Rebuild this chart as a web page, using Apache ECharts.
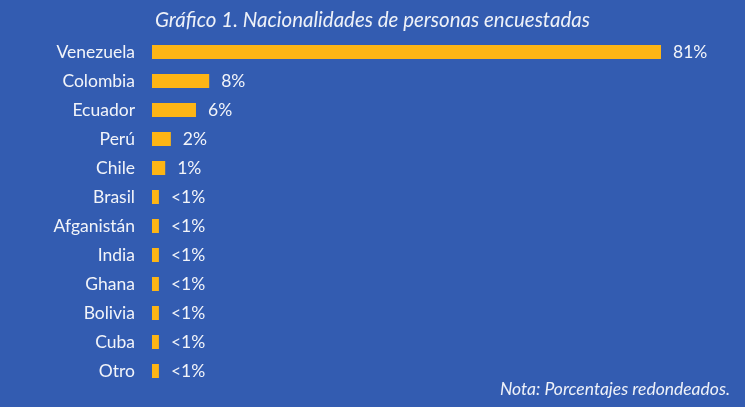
<!DOCTYPE html>
<html>
<head>
<meta charset="utf-8">
<script src="https://cdn.jsdelivr.net/npm/echarts@6/dist/echarts.min.js"></script>
<style>
  html, body { margin: 0; padding: 0; background: #335cb1; }
  #chart { width: 745px; height: 407px; }
</style>
</head>
<body>
<div id="chart"></div>
<script>
// paises, de arriba hacia abajo
var countries = ['Venezuela', 'Colombia', 'Ecuador', 'Perú', 'Chile', 'Brasil',
  'Afganistán', 'India', 'Ghana', 'Bolivia', 'Cuba', 'Otro'];
// largo de barra (%)
var values = [81, 9.1, 7.0, 3.0, 2.1, 1.1, 1.1, 1.1, 1.1, 1.1, 1.1, 1.1];
// etiquetas tal como aparecen (redondeadas)
var valueLabels = ['81%', '8%', '6%', '2%', '1%', '<1%', '<1%', '<1%', '<1%', '<1%', '<1%', '<1%'];

var chart = echarts.init(document.getElementById('chart'));
var font = 'Lato';

chart.setOption({
  backgroundColor: '#335cb1',
  animation: false,
  title: [
    {
      text: 'Gráfico 1. Nacionalidades de personas encuestadas',
      left: 'center',
      top: 5,
      textStyle: { color: '#eef1f8', fontFamily: font, fontStyle: 'italic', fontWeight: 'normal', fontSize: 20.5 }
    },
    {
      text: 'Nota: Porcentajes redondeados.',
      right: 10,
      bottom: 4,
      textStyle: { color: '#eef1f8', fontFamily: font, fontStyle: 'italic', fontWeight: 'normal', fontSize: 17.5 }
    }
  ],
  grid: { left: 152, right: 84, top: 37.5, bottom: 21.5 },
  xAxis: {
    type: 'value',
    min: 0,
    max: 81,
    show: false
  },
  yAxis: {
    type: 'category',
    inverse: true,
    data: countries,
    axisLine: { show: false },
    axisTick: { show: false },
    axisLabel: { color: '#f2f4f9', fontFamily: font, fontSize: 17.5, margin: 17 }
  },
  series: [
    {
      type: 'bar',
      data: values,
      barWidth: 14,
      itemStyle: { color: '#fdb515' },
      label: {
        show: true,
        position: 'right',
        distance: 12,
        color: '#f2f4f9',
        fontFamily: font,
        fontSize: 17.5,
        formatter: function (p) { return valueLabels[p.dataIndex]; }
      }
    }
  ]
});
</script>
</body>
</html>
